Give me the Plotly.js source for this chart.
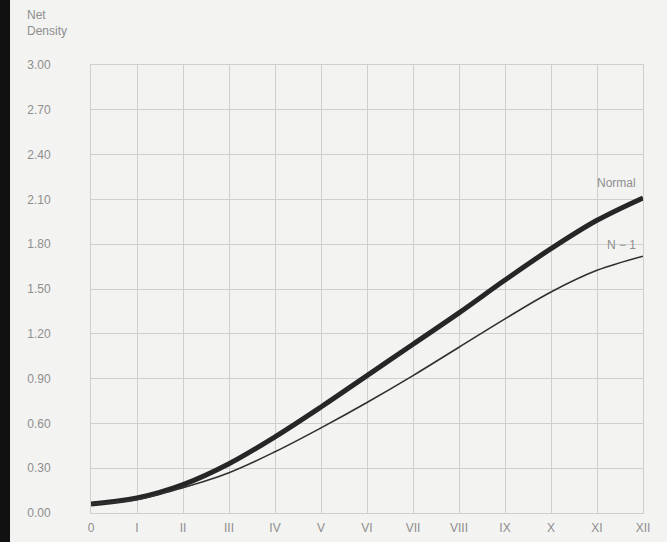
<!DOCTYPE html>
<html>
<head>
<meta charset="utf-8">
<script src="https://cdn.plot.ly/plotly-3.0.1.min.js"></script>
<style>
html,body{margin:0;padding:0;background:#f3f3f1;}
#chart{width:667px;height:542px;}
</style>
</head>
<body>
<div id="chart"></div>
<script>
// Zones 0..XII
const zones = [0,1,2,3,4,5,6,7,8,9,10,11,12];
const zoneLabels = ["0","I","II","III","IV","V","VI","VII","VIII","IX","X","XI","XII"];
const normalDensity = [0.06,0.10,0.19,0.33,0.51,0.71,0.92,1.13,1.34,1.56,1.77,1.96,2.11];
const nMinus1Density = [0.06,0.09,0.17,0.27,0.41,0.57,0.74,0.92,1.11,1.30,1.48,1.625,1.72];
const yTicks = [0,0.3,0.6,0.9,1.2,1.5,1.8,2.1,2.4,2.7,3.0];
const yTickText = yTicks.map(v => v.toFixed(2));
const seriesNames = ["Normal","N − 1"];

const textColor = "#8e8e8e";
const gridColor = "#cfcfcd";
const bg = "#f3f3f1";
const font = {family:"Liberation Sans, Arial, sans-serif", size:12, color:textColor};

const traces = [
  {x: zones, y: normalDensity, mode:"lines", name:seriesNames[0],
   line:{color:"#262626", width:5, shape:"spline", smoothing:1}},
  {x: zones, y: nMinus1Density, mode:"lines", name:seriesNames[1],
   line:{color:"#303030", width:1.6, shape:"spline", smoothing:1}}
];

const last = zones.length - 1;
const layout = {
  width:667, height:542,
  margin:{l:91, r:24, t:65, b:29, pad:0},
  paper_bgcolor:bg, plot_bgcolor:bg,
  showlegend:false,
  font: font,
  xaxis:{
    range:[0,12], tickvals:zones, ticktext:zoneLabels,
    showgrid:true, gridcolor:gridColor, gridwidth:1,
    zeroline:false, showline:true, linecolor:gridColor, linewidth:1, mirror:true,
    ticks:"outside", ticklen:4, tickcolor:"rgba(0,0,0,0)",
    tickfont:font, fixedrange:true
  },
  yaxis:{
    range:[0,3], tickvals:yTicks, ticktext:yTickText,
    showgrid:true, gridcolor:gridColor, gridwidth:1,
    zeroline:false, showline:true, linecolor:gridColor, linewidth:1, mirror:true,
    ticks:"outside", ticklen:37, tickcolor:"rgba(0,0,0,0)",
    tickfont:font, fixedrange:true
  },
  annotations:[
    {xref:"paper", yref:"paper", x:-0.1196, y:1.132, xanchor:"left", yanchor:"top",
     text:"Net<br>Density", showarrow:false, align:"left",
     font:{family:font.family, size:12, color:textColor}},
    {x:zones[last], y:normalDensity[last], xanchor:"right", yanchor:"middle",
     xshift:-5, yshift:15, text:seriesNames[0], showarrow:false,
     font:{family:font.family, size:12, color:textColor}},
    {x:zones[last], y:nMinus1Density[last], xanchor:"right", yanchor:"middle",
     xshift:-5, yshift:11, text:seriesNames[1], showarrow:false,
     font:{family:font.family, size:12, color:textColor}}
  ],
  shapes:[
    {type:"rect", xref:"paper", yref:"paper", x0:-0.1649, x1:-0.1467, y0:-0.07, y1:1.15,
     fillcolor:"#111111", line:{width:0}, layer:"above"}
  ]
};

Plotly.newPlot("chart", traces, layout, {displayModeBar:false, staticPlot:true});
</script>
</body>
</html>
